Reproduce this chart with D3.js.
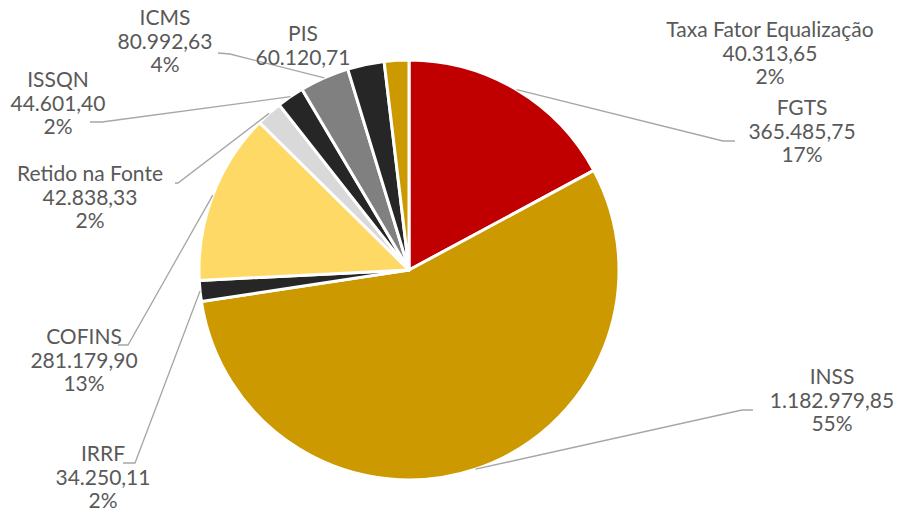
<!DOCTYPE html>
<html>
<head>
<meta charset="utf-8">
<script src="https://cdn.jsdelivr.net/npm/d3@7"></script>
<style>
  body { margin: 0; background: #fff; }
</style>
</head>
<body>
<div id="chart"></div>
<script>
// data
const categories = ["FGTS", "INSS", "IRRF", "COFINS", "Retido na Fonte", "ISSQN", "ICMS", "PIS", "Taxa Fator Equalização"];
const values = [365485.75, 1182979.85, 34250.11, 281179.90, 42838.33, 44601.40, 80992.63, 60120.71, 40313.65];
const colors = ["#c00000", "#cc9900", "#262626", "#ffd966", "#d9d9d9", "#262626", "#808080", "#262626", "#cc9900"];

// label layout: centre x, first baseline, leader line (label end, elbow), lines shown
const labelPos = [
  {x: 802, y: 115, lead: [[735, 141], [723, 141]], lines: 3},
  {x: 832, y: 384, lead: [[753, 410], [742, 410]], lines: 3},
  {x: 103, y: 461, lead: [[123, 463], [135, 463]], lines: 3},
  {x: 84,  y: 344, lead: [[118, 345], [128, 345]], lines: 3},
  {x: 90,  y: 181, lead: [[175, 183], [178, 183]], lines: 3},
  {x: 58,  y: 87,  lead: [[90, 122], [102, 122]], lines: 3},
  {x: 165, y: 25,  lead: [[218, 53], [230, 54]], lines: 3},
  {x: 303, y: 41,  lead: null, lines: 2},
  {x: 770, y: 37,  lead: null, lines: 3}
];

const width = 901, height = 512;
const cx = 409, cy = 270, radius = 210;

const svg = d3.select("#chart")
    .append("svg")
    .attr("width", width)
    .attr("height", height);

const data = categories.map((c, i) => ({name: c, value: values[i], color: colors[i], pos: labelPos[i]}));
const total = d3.sum(values);

const pie = d3.pie()
    .sort(null)
    .value(d => d.value);

const arcs = pie(data);

const arc = d3.arc()
    .innerRadius(0)
    .outerRadius(radius);

const g = svg.append("g")
    .attr("transform", `translate(${cx},${cy})`);

// slices
g.selectAll("path")
    .data(arcs)
    .join("path")
    .attr("d", arc)
    .attr("fill", d => d.data.color)
    .attr("stroke", "#fff")
    .attr("stroke-width", 3)
    .attr("stroke-linejoin", "round");

// leader lines, from the middle of each slice edge to the label
const fmt = d3.formatLocale({decimal: ",", thousands: ".", grouping: [3], currency: ["", ""]}).format(",.2f");

arcs.filter(d => d.data.pos.lead).forEach(d => {
    const mid = (d.startAngle + d.endAngle) / 2;
    const p0 = [cx + radius * Math.sin(mid), cy - radius * Math.cos(mid)];
    const pts = [p0, d.data.pos.lead[1], d.data.pos.lead[0]];
    svg.append("path")
        .attr("d", d3.line()(pts))
        .attr("fill", "none")
        .attr("stroke", "#a6a6a6")
        .attr("stroke-width", 1.3);
});

// labels
arcs.forEach(d => {
    const p = d.data.pos;
    const lines = [d.data.name, fmt(d.data.value), Math.round(d.data.value / total * 100) + "%"].slice(0, p.lines);
    const t = svg.append("text")
        .attr("text-anchor", "middle")
        .style("font-family", "Lato, sans-serif")
        .style("font-size", "21px")
        .style("fill", "#595959");
    lines.forEach((l, i) => {
        t.append("tspan")
            .attr("x", p.x)
            .attr("y", p.y + i * 23.5)
            .text(l);
    });
});
</script>
</body>
</html>
